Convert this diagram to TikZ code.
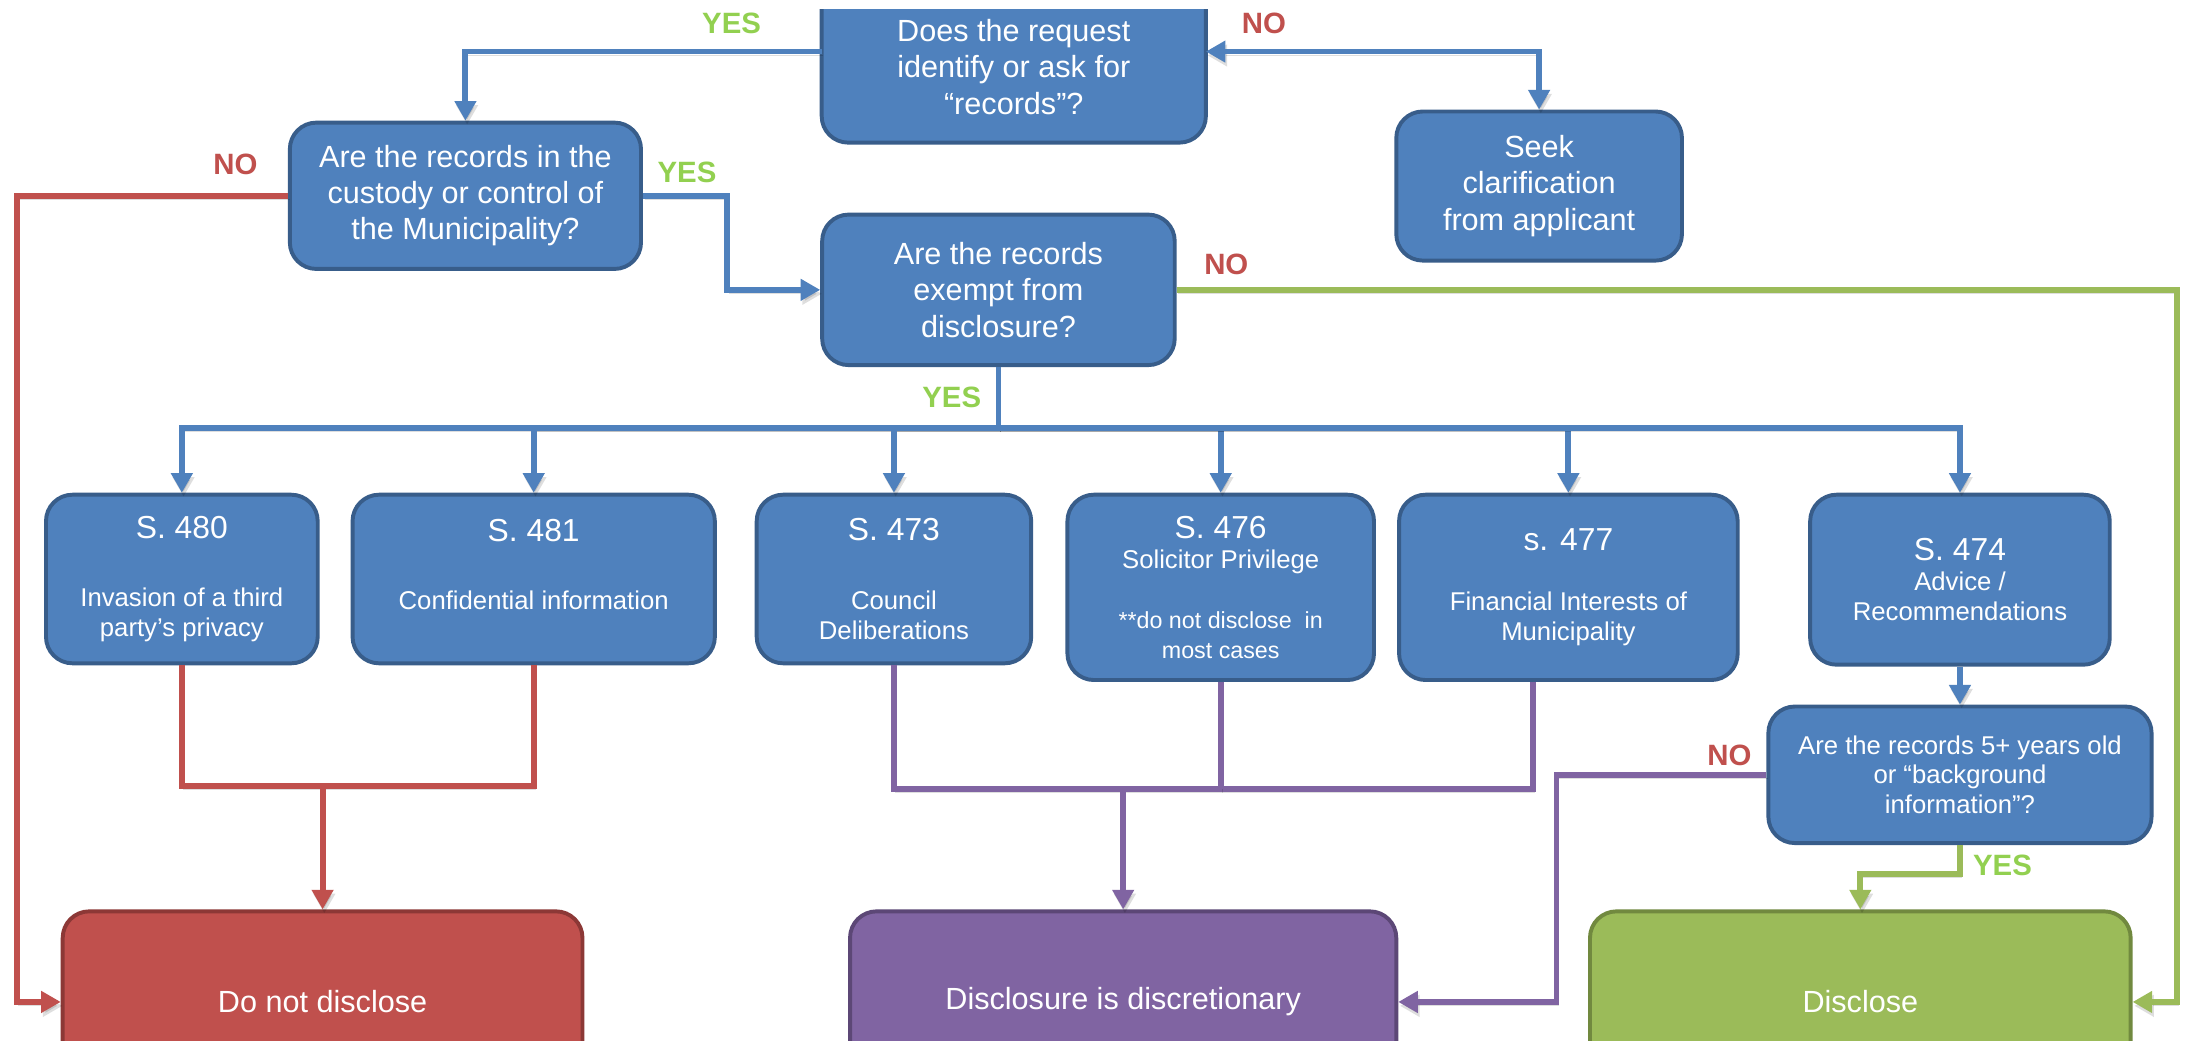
\documentclass[tikz,border=0pt]{standalone}
\usepackage{fontspec}
\setmainfont{Liberation Sans}
\usetikzlibrary{arrows.meta,backgrounds}
\definecolor{bfill}{HTML}{4F81BD}
\definecolor{bline}{HTML}{385D8A}
\definecolor{rfill}{HTML}{C0504D}
\definecolor{rline}{HTML}{8C3836}
\definecolor{pfill}{HTML}{8064A2}
\definecolor{pline}{HTML}{5C4776}
\definecolor{gfill}{HTML}{9BBB59}
\definecolor{gline}{HTML}{71893F}
\definecolor{yescol}{HTML}{92D050}
\definecolor{nocol}{HTML}{C0504D}
\newcommand\sectitle[1]{{\fontsize{13}{12.2}\selectfont #1}}
\newcommand\smalltxt[1]{{\fontsize{9.5}{11}\selectfont #1}}
\begin{document}
\begin{tikzpicture}[x=0.02cm,y=-0.02cm,
  box/.style={rectangle, rounded corners=0.38cm, line width=1.6pt, inner sep=0pt, align=center, text=white},
  sz/.style n args={2}{minimum width=#1*0.02cm, minimum height=#2*0.02cm},
  bbox/.style={box, fill=bfill, draw=bline},
  rbox/.style={box, fill=rfill, draw=rline},
  pbox/.style={box, fill=pfill, draw=pline},
  gbox/.style={box, fill=gfill, draw=gline},
  big/.style={font=\fontsize{12.5}{14.8}\selectfont},
  small/.style={font=\fontsize{10.5}{12.2}\selectfont},
  conn/.style={line width=2.4pt,
    preaction={draw=black, draw opacity=0.13, fill opacity=0.13, transform canvas={xshift=0.7pt, yshift=-1.6pt}}},
  tip/.style={-{Triangle[width=8.5pt,length=8pt]}},
  bl/.style={conn, draw=bfill},
  rd/.style={conn, draw=rfill},
  pu/.style={conn, draw=pfill},
  gr/.style={conn, draw=gfill},
  lab/.style={font=\fontsize{12}{12}\selectfont\bfseries},
]
\useasboundingbox (0,0) rectangle (1568,747);
\clip (0,0) rectangle (1568,747);

% top question (cut by the top edge)
\node[big, align=center, text=white, inner sep=0pt, sz={275}{108}] (q1) at (727.5,48)
  {Does the request\\identify or ask for\\“records”?};
\begin{scope}[on background layer]
  \fill[white] (0,0) rectangle (1568,747);
  \begin{scope}
    \clip (0,7) rectangle (1568,747);
    \draw[box, fill=bfill, draw=bline] ([yshift=1cm]q1.north west) -- (q1.south west)
      -- (q1.south east) -- ([yshift=1cm]q1.north east) -- cycle;
  \end{scope}
\end{scope}

\node[bbox, big, sz={205}{107}] (seek) at (1104.5,133.5) {Seek\\clarification\\from applicant};
\node[bbox, big, sz={252}{105}] (cust) at (334,140.5) {Are the records in the\\custody or control of\\the Municipality?};
\node[bbox, big, sz={253}{108}] (exempt) at (716.5,208) {Are the records\\exempt from\\disclosure?};

\node[bbox, small, sz={195}{121}] (s480) at (130.5,415.5) {\sectitle{S. 480}\\[15.7pt]Invasion of a third\\party’s privacy};
\node[bbox, small, sz={260}{121}] (s481) at (383,415.5) {\sectitle{S. 481}\\[15.7pt]Confidential information\\\mbox{}};
\node[bbox, small, sz={197}{121}] (s473) at (641.5,415.5) {\sectitle{S. 473}\\[15.7pt]Council\\Deliberations};
\node[bbox, small, sz={220}{133}] (s476) at (876,421.5) {\sectitle{S. 476}\\Solicitor Privilege\\[12.3pt]\smalltxt{**do not disclose\ \ in}\\\smalltxt{most cases}};
\node[bbox, small, sz={243}{133}] (s477) at (1125.5,421.5) {\sectitle{s. 477}\\[12.3pt]Financial Interests of\\Municipality};
\node[bbox, small, sz={215}{122}] (s474) at (1406.5,416) {\sectitle{S. 474}\\Advice /\\Recommendations};
\node[bbox, small, sz={275}{98}] (yrs) at (1406.5,556) {Are the records 5+ years old\\or “background\\information”?};

\node[rbox, big, sz={373}{130}] (dnd) at (231.5,719) {Do not disclose};
\node[pbox, big, sz={392}{130}] (disc) at (806,719) {Disclosure is discretionary};
\node[gbox, big, sz={388}{130}] (discl) at (1335,719) {Disclose};

% labels
\node[lab, text=yescol] (l1) at (525,17) {YES};
\node[lab, text=nocol] (l2) at (907,17) {NO};
\node[lab, text=nocol] (l3) at (169,118) {NO};
\node[lab, text=yescol] (l4) at (493,124) {YES};
\node[lab, text=nocol] (l5) at (880,190) {NO};
\node[lab, text=yescol] (l6) at (683,285) {YES};
\node[lab, text=nocol] (l7) at (1241,542) {NO};
\node[lab, text=yescol] (l8) at (1437,621) {YES};

% connectors
\draw[bl, tip] (q1.west |- 0,37) -| (cust.north);
\draw[bl, {Triangle[width=8.5pt,length=8pt]}-{Triangle[width=8.5pt,length=8pt]}] (q1.east |- 0,37) -| (seek.north);
\draw[bl, tip] (cust.east) -- (cust.east -| 522,0) |- (exempt.west);
\draw[rd, tip] (cust.west) -- (cust.west -| 12,0) |- (dnd.west);
\draw[gr, tip] (exempt.east) -- (exempt.east -| 1562,0) |- (discl.east);
\foreach \n in {s480,s481,s473,s476,s477,s474}
  \draw[bl, tip] (exempt.south) -- (exempt.south |- 0,307) -| (\n.north);
\draw[bl, tip] (s474.south) -- (yrs.north);

\draw[rd] (s480.south) -- (s480.south |- 0,564) -| (s481.south);
\draw[rd, tip] (dnd.north |- 0,564) -- (dnd.north);

\draw[pu] (s473.south) -- (s473.south |- 0,566) -| (s477.south -| 1100,0);
\draw[pu] (s476.south) -- (s476.south |- 0,566);
\draw[pu, tip] (disc.north |- 0,566) -- (disc.north);
\draw[pu, tip] (yrs.west) -- (yrs.west -| 1117,0) |- (disc.east);
\draw[gr, tip] (yrs.south) -- (yrs.south |- 0,627) -| (discl.north);
\end{tikzpicture}
\end{document}
